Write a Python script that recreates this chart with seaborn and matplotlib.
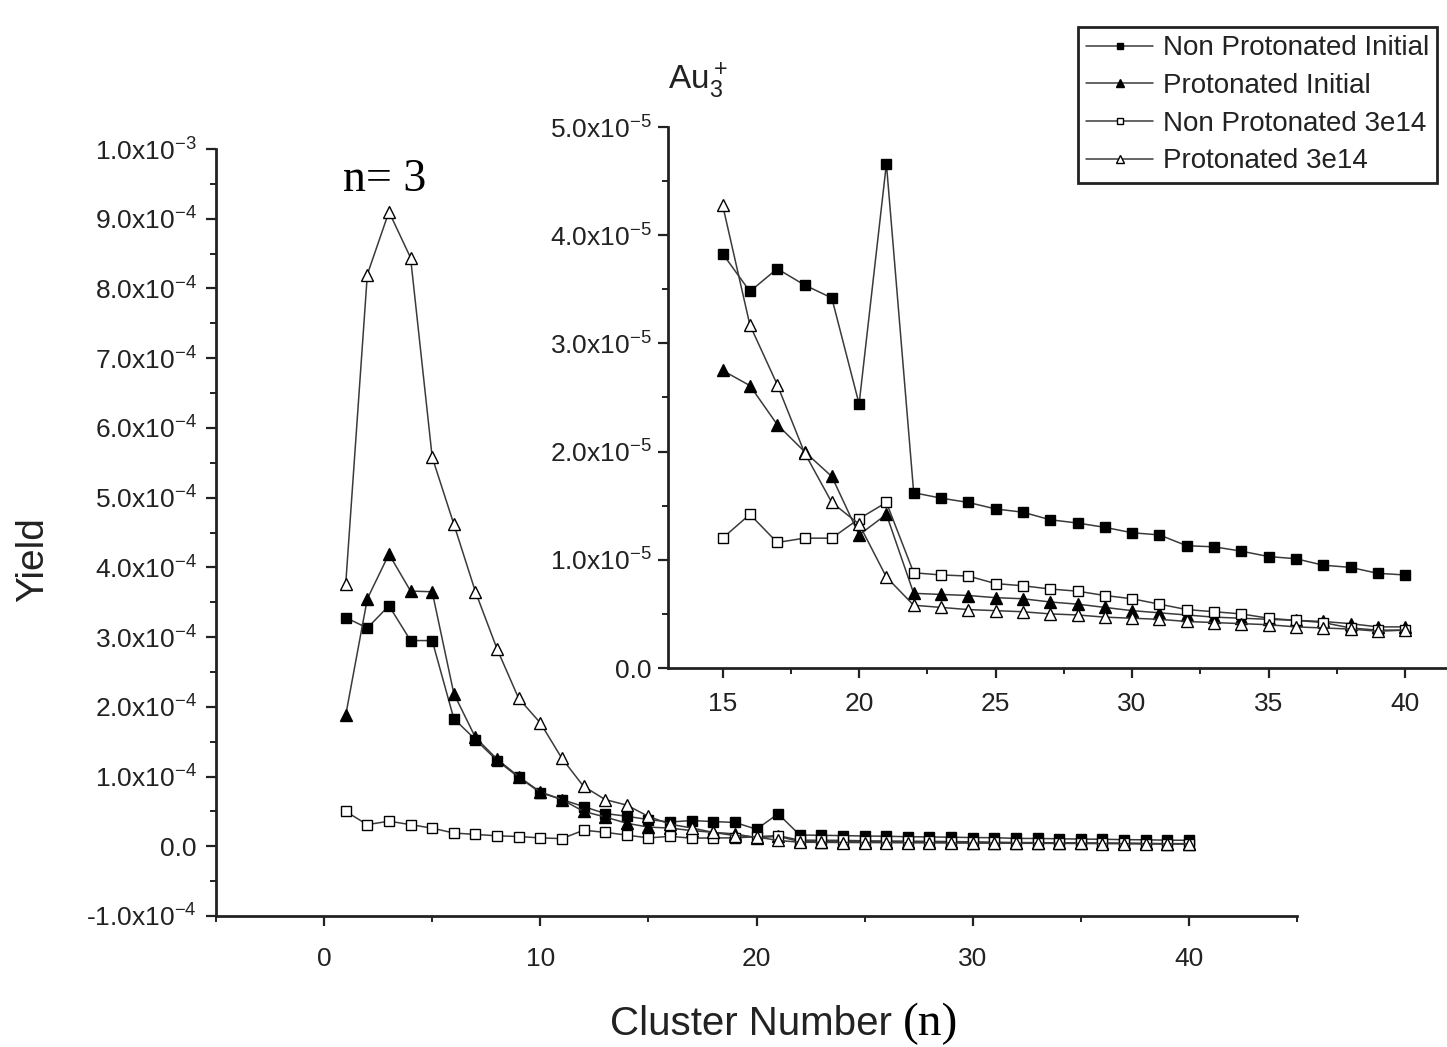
import numpy as np
import pandas as pd
import matplotlib
matplotlib.use("Agg")
import matplotlib.pyplot as plt
import seaborn as sns
from matplotlib.ticker import MultipleLocator

sns.set_style("ticks")
plt.rcParams['font.family'] = ['Liberation Sans', 'DejaVu Sans']
plt.rcParams['mathtext.default'] = 'regular'
plt.rcParams['axes.unicode_minus'] = False

# ---------------- data (values in units of 1e-5) ----------------
cluster_n = list(range(1, 41))
non_prot_initial = [32.8, 31.3, 34.5, 29.5, 29.5, 18.3, 15.3, 12.3, 9.9, 7.7,
                    6.7, 5.7, 4.7, 4.3, 3.83, 3.48, 3.69, 3.54, 3.42, 2.44,
                    4.66, 1.62, 1.57, 1.53, 1.47, 1.44, 1.37, 1.34, 1.30, 1.25,
                    1.23, 1.13, 1.12, 1.08, 1.03, 1.01, 0.95, 0.93, 0.875, 0.86]
prot_initial = [18.8, 35.5, 41.9, 36.6, 36.5, 21.9, 15.6, 12.5, 10.0, 7.8,
                6.7, 5.0, 4.2, 3.3, 2.75, 2.61, 2.25, 2.00, 1.77, 1.23,
                1.42, 0.69, 0.68, 0.67, 0.65, 0.64, 0.61, 0.59, 0.56, 0.53,
                0.51, 0.49, 0.47, 0.46, 0.45, 0.44, 0.43, 0.41, 0.38, 0.38]
non_prot_3e14 = [5.0, 3.1, 3.6, 3.1, 2.6, 1.9, 1.7, 1.5, 1.4, 1.2,
                 1.1, 2.3, 2.0, 1.6, 1.20, 1.42, 1.16, 1.20, 1.20, 1.38,
                 1.53, 0.88, 0.86, 0.85, 0.78, 0.76, 0.73, 0.71, 0.67, 0.64,
                 0.59, 0.54, 0.52, 0.50, 0.46, 0.44, 0.42, 0.37, 0.35, 0.35]
prot_3e14 = [37.6, 82.0, 91.0, 84.4, 55.8, 46.2, 36.5, 28.3, 21.2, 17.7,
             12.6, 8.6, 6.7, 5.9, 4.28, 3.17, 2.62, 1.99, 1.53, 1.33,
             0.84, 0.58, 0.56, 0.54, 0.53, 0.52, 0.50, 0.49, 0.47, 0.46,
             0.45, 0.43, 0.42, 0.41, 0.40, 0.38, 0.37, 0.36, 0.34, 0.35]

series_names = ["Non Protonated Initial", "Protonated Initial",
                "Non Protonated 3e14", "Protonated 3e14"]

main_yticks = [-1e-4, 0.0, 1e-4, 2e-4, 3e-4, 4e-4, 5e-4, 6e-4, 7e-4, 8e-4, 9e-4, 1e-3]
main_ylabels = [r'-1.0x10$^{-4}$', '0.0', r'1.0x10$^{-4}$', r'2.0x10$^{-4}$',
                r'3.0x10$^{-4}$', r'4.0x10$^{-4}$', r'5.0x10$^{-4}$', r'6.0x10$^{-4}$',
                r'7.0x10$^{-4}$', r'8.0x10$^{-4}$', r'9.0x10$^{-4}$', r'1.0x10$^{-3}$']
main_xticks = [0, 10, 20, 30, 40]
inset_yticks = [0.0, 1e-5, 2e-5, 3e-5, 4e-5, 5e-5]
inset_ylabels = ['0.0', r'1.0x10$^{-5}$', r'2.0x10$^{-5}$', r'3.0x10$^{-5}$',
                 r'4.0x10$^{-5}$', r'5.0x10$^{-5}$']
inset_xticks = [15, 20, 25, 30, 35, 40]

scale = 1e-5
df = pd.DataFrame({
    "n": cluster_n * 4,
    "yield": np.concatenate([np.array(non_prot_initial), np.array(prot_initial),
                             np.array(non_prot_3e14), np.array(prot_3e14)]) * scale,
    "series": sum([[s] * len(cluster_n) for s in series_names], []),
})

styles = {
    "Non Protonated Initial": dict(marker='s', markerfacecolor='black', ms=7.5),
    "Protonated Initial": dict(marker='^', markerfacecolor='black', ms=9),
    "Non Protonated 3e14": dict(marker='s', markerfacecolor='white', ms=7.5),
    "Protonated 3e14": dict(marker='^', markerfacecolor='white', ms=9),
}

W, H = 1447, 1047
fig = plt.figure(figsize=(W / 100, H / 100), dpi=100)

def px_axes(l, t, r, b):
    return fig.add_axes([l / W, 1 - b / H, (r - l) / W, (b - t) / H])

line_color = '#3a3a3a'

def draw(ax, d):
    for s in series_names:
        sub = d[d["series"] == s]
        st = styles[s]
        sns.lineplot(data=sub, x="n", y="yield", ax=ax, color=line_color, lw=1.1,
                     marker=st['marker'], markersize=st['ms'],
                     markerfacecolor=st['markerfacecolor'], markeredgecolor='black',
                     markeredgewidth=1.0, label=s, legend=False, sort=False)

def style_axes(ax):
    for sp in ['top', 'right']:
        ax.spines[sp].set_visible(False)
    for sp in ['left', 'bottom']:
        ax.spines[sp].set_linewidth(2.0)
        ax.spines[sp].set_color('#222222')
    ax.tick_params(which='major', direction='out', length=7, width=1.6, colors='#222222',
                   labelsize=19, labelcolor='#222222')
    ax.tick_params(which='minor', direction='out', length=4, width=1.4, colors='#222222')
    ax.set_xlabel('')
    ax.set_ylabel('')
    ax.set_facecolor('none')

# ---------------- main axes ----------------
ax = px_axes(216, 149, 1297, 916)
draw(ax, df)
style_axes(ax)
ax.set_xlim(-5, 45)
ax.set_ylim(-1e-4, 1e-3)
ax.set_xticks(main_xticks)
ax.xaxis.set_minor_locator(MultipleLocator(5))
ax.set_yticks(main_yticks)
ax.set_yticklabels(main_ylabels)
ax.yaxis.set_minor_locator(MultipleLocator(5e-5))
ax.tick_params(axis='x', which='major', pad=15)
ax.tick_params(axis='y', which='major', pad=7)

# ---------------- inset axes ----------------
ins = px_axes(668, 127, 1447, 668)
draw(ins, df[df["n"] >= 15])
style_axes(ins)
ins.set_xlim(13, 13 + (1447 - 668) / 27.3)
ins.set_ylim(0, 5e-5)
ins.set_xticks(inset_xticks)
ins.xaxis.set_minor_locator(MultipleLocator(2.5))
ins.set_yticks(inset_yticks)
ins.set_yticklabels(inset_ylabels)
ins.yaxis.set_minor_locator(MultipleLocator(5e-6))
ins.tick_params(axis='x', which='major', pad=10)
ins.tick_params(axis='y', which='major', pad=5)

# ---------------- texts ----------------
fig.text(33 / W, 1 - 560 / H, 'Yield', rotation=90, ha='center', va='center',
         fontsize=28, color='#222222')
fig.text(610 / W, 1 - 1035 / H, 'Cluster Number', ha='left', va='baseline',
         fontsize=29, color='#222222')
fig.text(903 / W, 1 - 1035 / H, '(n)', ha='left', va='baseline',
         fontsize=34, family='Liberation Serif', color='black')
fig.text(343 / W, 1 - 191 / H, 'n= 3', ha='left', va='baseline',
         fontsize=33, family='Liberation Serif', color='black')
fig.text(668 / W, 1 - 89 / H, r'$Au_3^+$', ha='left', va='baseline',
         fontsize=24, color='#222222')

# ---------------- legend ----------------
handles, labels = ax.get_legend_handles_labels()
leg = fig.legend(handles, labels, loc='upper left', bbox_to_anchor=(1078 / W, 1 - 27 / H),
                 fontsize=20, frameon=True, fancybox=False, framealpha=1,
                 edgecolor='#222222', markerscale=0.65, handlelength=2.4,
                 handletextpad=0.35, labelspacing=0.42, borderpad=0.3,
                 borderaxespad=0)
leg.get_frame().set_linewidth(2.0)
for t in leg.get_texts():
    t.set_color('#222222')

fig.savefig('out.png', dpi=100)
